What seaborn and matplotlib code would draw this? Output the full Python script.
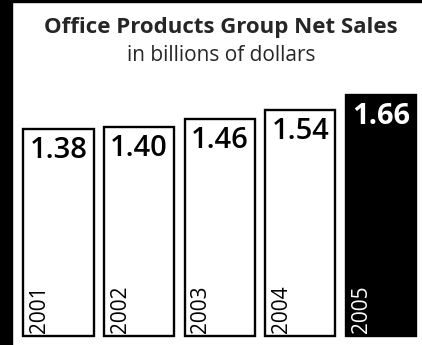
import matplotlib
matplotlib.use("Agg")
import matplotlib.pyplot as plt
import pandas as pd
import seaborn as sns
from matplotlib.patches import Rectangle

years = ["2001", "2002", "2003", "2004", "2005"]
net_sales = [1.38, 1.40, 1.46, 1.54, 1.66]
value_labels = ["1.38", "1.40", "1.46", "1.54", "1.66"]
title = "Office Products Group Net Sales"
subtitle = "in billions of dollars"

# common baseline the bars rise from (the value scale does not start at zero)
BASE = -0.33

sns.set_theme(style="white")
plt.rcParams["font.family"] = ["Open Sans", "DejaVu Sans"]

fig = plt.figure(figsize=(4.22, 3.45), dpi=100)
ax = fig.add_axes([0.0431, 0.026, 0.955, 0.7296])

df = pd.DataFrame({"year": years, "sales": net_sales})
df["span"] = df["sales"] - BASE

fills = {y: "white" for y in years}
fills[years[-1]] = "black"

sns.barplot(data=df, x="year", y="span", hue="year", palette=fills,
            legend=False, bottom=BASE, width=0.87, edgecolor="black",
            linewidth=1.7, saturation=1, ax=ax)
for p in ax.patches:
    p.set_clip_on(False)

ax.set_xlim(-0.5, 4.5)
ax.set_ylim(BASE, 1.75)
ax.axis("off")

last = len(years) - 1
for i, (v, lab, yr) in enumerate(zip(net_sales, value_labels, years)):
    color = "white" if i == last else "black"
    ax.annotate(lab, (i, v), xytext=(0, -5), textcoords="offset points",
                ha="center", va="top", fontsize=21,
                fontweight="bold" if i == last else "semibold", color=color)
    ax.annotate(yr, (i - 0.87 / 2, BASE), xytext=(4, 2),
                textcoords="offset points", rotation=90, ha="left",
                va="bottom", fontsize=15, color=color)

# dark frame strips on the left and top edges
fig.patches.append(Rectangle((0, 0), 12 / 422, 1, transform=fig.transFigure,
                             color="black", zorder=5))
fig.patches.append(Rectangle((0, 1 - 2 / 345), 1, 2 / 345,
                             transform=fig.transFigure, color="black", zorder=5))

fig.text(221 / 422, 1 - 33 / 345, title, ha="center", va="baseline",
         fontsize=16, fontweight="bold")
fig.text(221 / 422, 1 - 61 / 345, subtitle, ha="center", va="baseline",
         fontsize=15)

fig.savefig("out.png", dpi=100)
